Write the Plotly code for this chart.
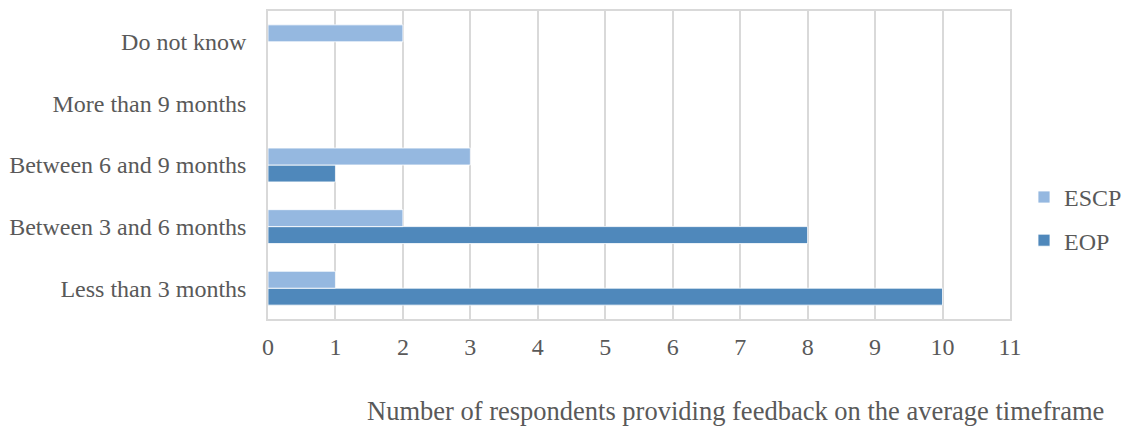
import plotly.graph_objects as go

categories = ["Less than 3 months", "Between 3 and 6 months", "Between 6 and 9 months",
              "More than 9 months", "Do not know"]
eop_values = [10, 8, 1, 0, 0]
escp_values = [1, 2, 3, 0, 2]
x_ticks = list(range(0, 12))

FONT = "Liberation Serif, Times New Roman, serif"
TXT = "#595959"
GRID = "#d9d9d9"

L, R = 268, 10
paper_w = 1122 - L - R
x_end = (1010 - L) / paper_w

fig = go.Figure()
fig.add_trace(go.Bar(y=categories, x=eop_values, name="EOP", orientation="h",
                     marker=dict(color="#4f88bb", line=dict(color="white", width=0.8)),
                     legendgroup="eop", legendrank=2))
fig.add_trace(go.Bar(y=categories, x=escp_values, name="ESCP", orientation="h",
                     marker=dict(color="#95b8e0", line=dict(color="white", width=0.8)),
                     legendgroup="escp", legendrank=1))

fig.update_layout(
    width=1122, height=427,
    margin=dict(l=L, r=R, t=11, b=108, autoexpand=False),
    paper_bgcolor="white", plot_bgcolor="white",
    barmode="group", bargap=0.45, bargroupgap=0,
    font=dict(family=FONT, size=24, color=TXT),
    legend=dict(x=(1024 - L) / paper_w, xanchor="left", y=0.325, yanchor="middle",
                traceorder="grouped", tracegroupgap=9,
                font=dict(size=24, color=TXT), itemwidth=30),
    xaxis=dict(domain=[0, x_end], range=[0, 11], tickvals=x_ticks, showgrid=True,
               gridcolor=GRID, gridwidth=1.5,
               showline=True, linecolor=GRID, linewidth=1.5, mirror=True, zeroline=False,
               ticks="outside", ticklen=5, tickcolor="rgba(0,0,0,0)",
               tickfont=dict(size=24, color=TXT)),
    yaxis=dict(categoryorder="array", categoryarray=categories, showgrid=False,
               showline=True, linecolor=GRID, linewidth=1.5, mirror=True,
               ticks="outside", ticklen=15, tickcolor="rgba(0,0,0,0)",
               tickfont=dict(size=24, color=TXT)),
    annotations=[dict(text="Number of respondents providing feedback on the average timeframe",
                      xref="paper", yref="paper", x=(735 - L) / paper_w, y=-0.3,
                      xanchor="center", yanchor="middle",
                      showarrow=False, font=dict(size=26.5, color=TXT))],
)

fig.write_html("out.html")
